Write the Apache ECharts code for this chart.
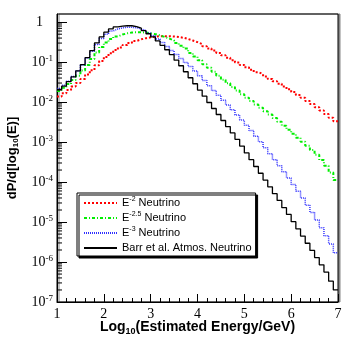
<!DOCTYPE html>
<html>
<head>
<meta charset="utf-8">
<script src="https://cdn.jsdelivr.net/npm/echarts@6.0.0/dist/echarts.min.js"></script>
<style>
  html, body { margin: 0; padding: 0; background: #fff; }
  #chart { width: 356px; height: 343px; }
</style>
</head>
<body>
<div id="chart"></div>
<script>
// low edges of the 0.1-wide log10(E) bins
var binEdges = [1.0, 1.1, 1.2, 1.3, 1.4, 1.5, 1.6, 1.7, 1.8, 1.9,
    2.0, 2.1, 2.2, 2.3, 2.4, 2.5, 2.6, 2.7, 2.8, 2.9,
    3.0, 3.1, 3.2, 3.3, 3.4, 3.5, 3.6, 3.7, 3.8, 3.9,
    4.0, 4.1, 4.2, 4.3, 4.4, 4.5, 4.6, 4.7, 4.8, 4.9,
    5.0, 5.1, 5.2, 5.3, 5.4, 5.5, 5.6, 5.7, 5.8, 5.9,
    6.0, 6.1, 6.2, 6.3, 6.4, 6.5, 6.6, 6.7, 6.8, 6.9];
var xEnd = 7.0;

var seriesNames = ['E-2 Neutrino', 'E-2.5 Neutrino', 'E-3 Neutrino', 'Barr et al. Atmos. Neutrino'];
var legendLabels = ['E{sup|-2} Neutrino', 'E{sup|-2.5} Neutrino', 'E{sup|-3} Neutrino', 'Barr et al. Atmos. Neutrino'];

var e2Values = [0.0138, 0.0166, 0.0200, 0.0245, 0.0302, 0.0380, 0.0490, 0.0631, 0.0832, 0.107,
    0.135, 0.166, 0.200, 0.234, 0.269, 0.302, 0.339, 0.372, 0.398, 0.417,
    0.437, 0.447, 0.447, 0.447, 0.437, 0.427, 0.407, 0.380, 0.347, 0.316,
    0.282, 0.251, 0.219, 0.195, 0.170, 0.148, 0.129, 0.112, 0.0977, 0.0851,
    0.0741, 0.0646, 0.0562, 0.0501, 0.0437, 0.0380, 0.0331, 0.0288, 0.0245, 0.0209,
    0.0178, 0.0151, 0.0129, 0.0107, 0.00891, 0.00741, 0.00617, 0.00501, 0.00407, 0.00331];

var e25Values = [0.0191, 0.0229, 0.0282, 0.0355, 0.0457, 0.0617, 0.0851, 0.120, 0.174, 0.240,
    0.309, 0.380, 0.437, 0.490, 0.525, 0.550, 0.562, 0.562, 0.550, 0.525,
    0.501, 0.468, 0.427, 0.389, 0.347, 0.302, 0.257, 0.219, 0.170, 0.138,
    0.112, 0.0891, 0.0724, 0.0575, 0.0457, 0.0363, 0.0295, 0.0240, 0.0195, 0.0158,
    0.0129, 0.0107, 0.00871, 0.00724, 0.00589, 0.00490, 0.00398, 0.00324, 0.00257, 0.00204,
    0.00162, 0.00129, 0.00102, 8.13e-4, 6.31e-4, 4.79e-4, 3.55e-4, 2.57e-4, 1.74e-4, 1.12e-4];

var e3Values = [0.0219, 0.0263, 0.0331, 0.0437, 0.0603, 0.0851, 0.126, 0.186, 0.275, 0.389,
    0.501, 0.603, 0.676, 0.724, 0.741, 0.741, 0.724, 0.676, 0.617, 0.537,
    0.457, 0.380, 0.309, 0.245, 0.195, 0.155, 0.123, 0.0977, 0.0776, 0.0603,
    0.0457, 0.0347, 0.0257, 0.0195, 0.0148, 0.0112, 0.00851, 0.00646, 0.00479, 0.00355,
    0.00263, 0.00195, 0.00141, 0.00102, 7.24e-4, 5.13e-4, 3.63e-4, 2.57e-4, 1.82e-4, 1.26e-4,
    8.71e-5, 5.89e-5, 3.98e-5, 2.63e-5, 1.74e-5, 1.12e-5, 7.24e-6, 4.57e-6, 2.82e-6, 1.70e-6];

var barrValues = [0.0209, 0.0251, 0.0324, 0.0427, 0.0603, 0.0871, 0.129, 0.195, 0.302, 0.427,
    0.562, 0.676, 0.759, 0.794, 0.813, 0.813, 0.776, 0.708, 0.617, 0.513,
    0.427, 0.339, 0.263, 0.204, 0.155, 0.112, 0.0813, 0.0575, 0.0407, 0.0288,
    0.0200, 0.0141, 0.00977, 0.00692, 0.00490, 0.00347, 0.00245, 0.00170, 0.00117, 7.94e-4,
    5.37e-4, 3.63e-4, 2.45e-4, 1.66e-4, 1.12e-4, 7.59e-5, 5.13e-5, 3.47e-5, 2.29e-5, 1.55e-5,
    1.02e-5, 6.76e-6, 4.47e-6, 2.95e-6, 1.95e-6, 1.29e-6, 8.51e-7, 5.62e-7, 3.31e-7, 2.00e-7];

var yMin = 1e-7, yMax = 1.6;

// histogram outline: one point per low edge, plus the upper edge of the last bin
function histData(vals) {
    var out = binEdges.map(function (x, i) { return [x, vals[i]]; });
    out.push([xEnd, vals[vals.length - 1]]);
    return out;
}

// log minor ticks 2..9 x 10^k
var minorTicks = [];
for (var e = -7; e <= 0; e++) {
    for (var k = 2; k <= 9; k++) {
        var v = k * Math.pow(10, e);
        if (v < yMax) minorTicks.push([1, v]);
    }
}

var serif = '"Liberation Serif", "Times New Roman", serif';
var sans = '"Liberation Sans", Arial, sans-serif';

var chart = echarts.init(document.getElementById('chart'));

function histSeries(name, vals, color, dash, width) {
    return {
        name: name,
        type: 'line',
        step: 'end',
        symbol: 'none',
        data: histData(vals),
        lineStyle: { color: color, width: width, type: dash },
        itemStyle: { color: color, opacity: 0 },
        animation: false
    };
}

var option = {
    backgroundColor: '#fff',
    animation: false,
    grid: {
        left: 57, right: 18, top: 14, bottom: 41,
        show: true, borderColor: '#000', borderWidth: 1,
        backgroundColor: '#fff',
        shadowColor: '#888', shadowOffsetX: 2, shadowBlur: 0,
        outerBoundsMode: 'none'
    },
    legend: {
        data: seriesNames,
        orient: 'vertical',
        left: 77, top: 193,
        padding: [3, 4, 1, 6],
        itemWidth: 33, itemHeight: 14, itemGap: 1,
        backgroundColor: '#fff',
        borderColor: '#000', borderWidth: 1,
        shadowColor: '#000', shadowOffsetX: 2, shadowOffsetY: 2, shadowBlur: 0,
        itemStyle: { opacity: 0 },
        formatter: function (name) { return legendLabels[seriesNames.indexOf(name)]; },
        textStyle: {
            fontFamily: sans, fontSize: 11, color: '#000', lineHeight: 14,
            rich: {
                sup: { fontFamily: sans, fontSize: 7, verticalAlign: 'top', lineHeight: 9 }
            }
        }
    },
    xAxis: {
        type: 'value', min: 1, max: 7, interval: 1,
        name: 'Log{sub|10}(Estimated Energy/GeV)',
        nameLocation: 'middle', nameGap: 16, nameMoveOverlap: false,
        nameTextStyle: {
            fontFamily: sans, fontWeight: 'bold', fontSize: 14, color: '#000', lineHeight: 18,
            rich: { sub: { fontFamily: sans, fontWeight: 'bold', fontSize: 9, verticalAlign: 'bottom', lineHeight: 8 } }
        },
        axisLine: { lineStyle: { color: '#000', width: 1 } },
        axisTick: { inside: true, length: 8, lineStyle: { color: '#000' } },
        minorTick: { show: true, splitNumber: 5, length: 4, lineStyle: { color: '#000' } },
        splitLine: { show: false },
        axisLabel: { fontFamily: serif, fontSize: 14, color: '#000', margin: 5 }
    },
    yAxis: {
        type: 'log', logBase: 10, min: yMin, max: yMax, interval: 1,
        name: 'dP/d[log{sub|10}(E)]',
        nameLocation: 'middle', nameGap: 37, nameRotate: 90, nameMoveOverlap: false,
        nameTextStyle: {
            fontFamily: sans, fontWeight: 'bold', fontSize: 13, color: '#000', lineHeight: 16,
            rich: { sub: { fontFamily: sans, fontWeight: 'bold', fontSize: 8, verticalAlign: 'bottom', lineHeight: 7 } }
        },
        axisLine: { lineStyle: { color: '#000', width: 1 } },
        axisTick: { inside: true, length: 10, lineStyle: { color: '#000' } },
        splitLine: { show: false },
        axisLabel: {
            margin: 4,
            showMaxLabel: false,
            formatter: function (val) {
                var p = Math.round(Math.log10(val));
                if (p === 0) return '{one|1}';
                return '{b|10}{sup|' + p + '}';
            },
            rich: {
                one: { fontFamily: serif, fontSize: 14, color: '#000', lineHeight: 16, padding: [0, 10, 0, 0] },
                b: { fontFamily: serif, fontSize: 14, color: '#000', lineHeight: 16 },
                sup: { fontFamily: serif, fontSize: 9, color: '#000', verticalAlign: 'top', lineHeight: 9 }
            }
        }
    },
    series: [
        histSeries(seriesNames[0], e2Values, '#ff0000', [2, 2], 2),
        histSeries(seriesNames[1], e25Values, '#00ee00', [3, 2, 1, 2], 2),
        histSeries(seriesNames[2], e3Values, '#3030ff', [1, 1], 1.5),
        histSeries(seriesNames[3], barrValues, '#000000', 'solid', 1.3),
        {
            type: 'custom',
            silent: true,
            clip: false,
            data: minorTicks,
            renderItem: function (params, api) {
                var p = api.coord([api.value(0), api.value(1)]);
                return {
                    type: 'line',
                    shape: { x1: p[0], y1: p[1], x2: p[0] + 5, y2: p[1] },
                    style: { stroke: '#000', lineWidth: 1 }
                };
            },
            z: 5
        }
    ]
};

chart.setOption(option);
</script>
</body>
</html>
